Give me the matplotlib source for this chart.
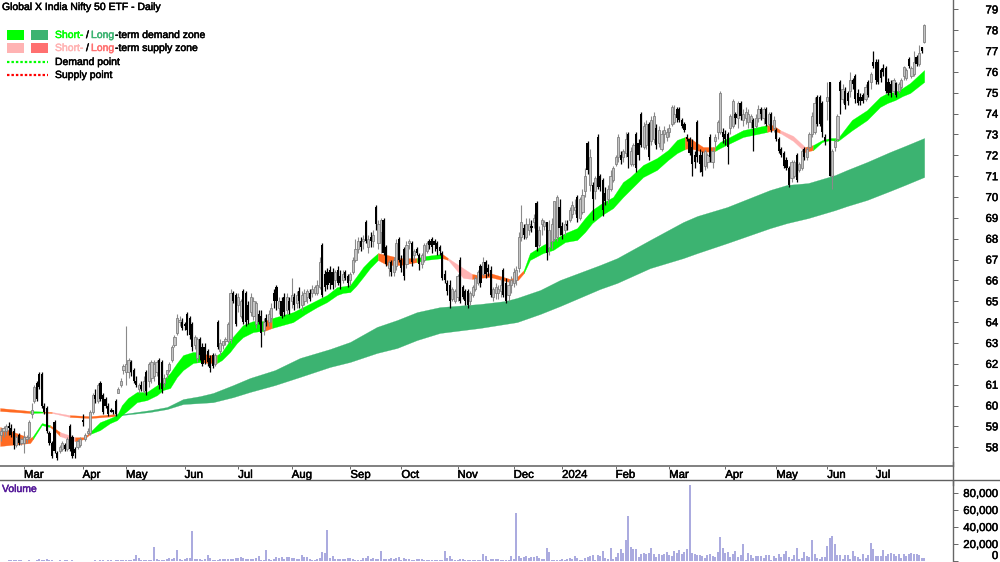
#!/usr/bin/env python3
import matplotlib
matplotlib.use('Agg')
import matplotlib.pyplot as plt
from matplotlib.patches import Rectangle
from matplotlib.patheffects import withStroke
from matplotlib.text import Text
import numpy as np

plt.rcParams['font.family'] = ['Liberation Sans', 'DejaVu Sans']

# daily prices, one value per trading day
opens = [
 58.6,58.8,58.8,59.0,58.9,58.8,58.1,58.6,58.2,58.2, 58.4,58.5,59.6,60.2,61.1,61.5,61.5,60.0,59.9,58.7,
 58.2,59.2,57.7,57.8,57.9,58.1,57.9,59.0,58.5,57.9, 58.0,58.1,59.3,58.4,58.7,58.7,59.7,60.5,60.2,61.1,
 60.5,60.3,60.0,59.8,59.8,60.2,60.6,61.0,61.7,61.6, 61.6,62.1,61.7,61.2,60.8,61.0,60.7,61.6,61.2,61.3,
 61.4,61.6,62.2,62.1,61.1,61.5,61.7,62.2,62.9,63.5, 64.0,64.0,63.9,64.4,64.2,63.9,62.9,62.3,63.2,62.8,
 62.8,62.6,62.3,62.4,62.0,64.0,62.6,62.9,63.1,63.1, 63.2,65.4,65.3,64.8,64.3,65.5,65.4,64.8,64.5,64.3,
 63.9,64.4,64.3,63.6,64.2,64.0,64.2,65.4,65.7,64.7, 65.0,65.2,64.6,65.0,65.0,65.2,64.9,65.5,64.8,65.0,
 65.2,65.4,65.4,65.4,65.4,65.7,67.7,66.3,66.4,66.5, 66.4,66.0,66.5,66.2,66.0,66.4,66.2,66.0,66.4,67.0,
 67.5,67.9,67.9,68.8,67.6,68.1,67.9,69.5,67.8,68.3, 68.9,67.6,66.6,66.9,66.4,66.7,68.0,67.0,67.5,66.8,
 67.8,67.8,67.2,67.5,67.2,66.8,67.0,67.4,67.9,68.0, 67.9,67.8,67.6,67.3,66.3,65.9,65.8,65.1,65.0,65.2,
 67.0,65.7,65.5,65.5,65.0,65.3,65.6,65.9,66.7,66.3, 66.9,66.6,66.5,65.2,65.4,65.4,65.5,66.5,65.9,65.3,
 65.8,65.9,66.0,66.6,68.1,68.5,68.1,68.4,68.6,68.8, 69.7,67.7,68.7,68.6,68.8,67.6,67.9,68.0,68.1,69.5,
 68.6,68.4,68.7,68.9,69.2,69.4,70.0,69.0,69.3,70.3, 72.6,70.6,70.6,70.3,72.9,71.0,70.8,70.2,69.9,70.4,
 70.8,71.6,71.9,72.0,71.9,72.1,73.0,71.6,71.6,73.0, 72.6,74.0,72.4,72.5,73.5,72.7,72.8,73.3,72.6,72.3,
 73.0,72.9,73.1,73.5,73.6,74.2,74.2,73.7,73.5,72.9, 72.8,72.4,72.0,73.6,72.0,72.0,71.5,71.7,72.9,71.7,
 72.7,73.1,73.1,73.1,73.0,73.0,73.3,73.4,74.0,73.8, 74.5,73.7,73.8,73.6,73.6,73.7,73.4,73.8,74.2,73.8,
 74.2,73.5,74.0,73.3,73.2,72.8,72.3,72.1,71.8,71.4, 70.9,71.0,72.0,71.3,71.4,72.3,71.9,72.4,73.0,73.1,
 74.8,74.8,74.5,72.9,74.6,75.5,71.0,72.4,72.8,75.5, 74.7,75.1,75.0,75.1,75.6,75.8,75.0,74.8,74.9,74.7,
 75.5,75.5,76.5,76.5,76.5,76.1,76.2,76.2,75.5,75.4, 75.1,75.45,75.1,75.3,75.8,75.7,76.6,75.8,75.9,76.7,76.4,77.2,77.45]
highs = [
 58.9,59.0,59.1,59.2,59.1,58.9,58.6,58.7,58.5,58.8, 58.6,59.3,60.1,61.0,61.2,61.6,61.6,60.1,60.0,58.8,
 58.3,59.3,57.8,58.1,58.3,58.2,58.5,59.1,58.6,58.0, 58.4,58.5,59.6,58.7,58.9,59.8,60.6,60.8,61.1,61.2,
 60.6,60.4,60.1,59.9,59.8,60.3,60.9,61.3,62.0,63.8, 62.3,62.2,61.8,61.4,61.1,61.2,61.4,61.7,62.1,62.2,
 62.2,62.2,62.3,62.2,61.5,61.7,62.1,62.9,63.4,64.4, 64.3,64.2,64.0,64.5,64.3,64.0,63.4,63.3,63.3,63.0,
 63.0,62.7,62.4,62.5,62.5,64.1,63.2,63.0,63.3,64.0, 65.6,65.5,65.4,65.4,65.1,65.6,65.5,65.0,65.4,65.2,
 65.0,64.6,64.6,64.2,64.4,64.6,64.9,65.6,65.8,65.2, 65.2,65.4,65.4,65.2,66.1,65.4,65.5,65.7,65.5,65.6,
 65.6,65.6,65.8,65.8,66.0,67.1,67.8,66.5,66.6,66.7, 66.6,66.5,66.7,66.5,66.5,66.5,66.3,66.4,67.1,68.0,
 68.1,68.1,68.2,68.9,68.2,68.3,68.4,69.6,68.9,69.0, 69.0,67.7,67.0,67.0,67.1,68.0,68.1,67.2,67.6,67.9,
 68.0,67.9,67.5,67.6,67.3,67.3,67.8,67.9,68.0,68.1, 68.0,67.9,67.7,67.4,66.5,66.0,66.0,65.7,65.6,66.3,
 67.1,65.8,65.6,65.6,65.5,65.8,66.2,66.5,66.8,67.1, 67.0,66.8,66.7,65.7,65.9,65.8,66.1,66.6,66.1,66.0,
 66.2,66.6,66.7,68.3,69.6,68.7,69.0,69.0,68.9,69.2, 69.8,68.6,69.0,68.9,68.8,68.9,69.0,68.9,70.1,69.9,
 68.8,68.9,68.9,69.5,69.8,69.9,70.1,70.0,70.4,71.4, 72.7,72.3,70.7,71.0,73.0,71.1,70.9,70.5,70.6,71.3,
 71.5,72.0,73.0,72.2,72.3,73.1,73.1,72.4,72.6,73.1, 72.8,74.1,73.6,73.7,73.6,73.9,74.1,73.5,73.4,73.2,
 73.4,73.3,73.5,74.4,74.4,74.3,74.3,73.8,73.6,73.0, 72.9,72.8,72.2,73.7,72.3,72.2,72.3,72.1,73.0,72.4,
 73.0,73.7,75.1,73.3,73.2,73.1,74.0,74.7,74.1,74.6, 74.6,74.2,74.3,74.2,74.0,73.8,74.0,74.4,74.3,74.3,
 74.3,74.1,74.1,73.9,73.3,72.9,72.4,72.2,71.9,71.5, 71.8,71.8,72.1,71.7,72.3,72.4,72.4,73.1,74.1,74.8,
 74.9,74.9,74.6,73.0,75.5,75.5,72.3,72.8,74.0,75.6, 75.4,75.3,75.1,76.0,75.7,75.9,75.2,75.0,75.0,75.4,
 75.6,76.0,77.0,76.6,76.6,76.2,76.4,76.3,75.7,75.6, 75.7,75.5,75.5,75.7,76.3,76.2,76.7,76.3,77.0,76.8,77.3,77.2,78.3]
lows = [
 58.3,58.5,58.6,58.6,58.5,57.9,58.0,58.1,58.1,57.7, 58.2,58.4,59.4,60.1,60.2,60.8,59.9,59.6,58.7,58.1,
 57.5,57.7,57.4,57.7,57.8,57.8,57.8,57.8,57.5,57.5, 57.9,58.0,59.0,58.3,58.6,58.6,59.6,60.1,60.1,60.2,
 59.6,59.9,59.5,59.7,59.6,59.5,60.6,60.9,61.5,61.0, 61.3,61.4,61.1,60.9,60.6,60.7,60.6,60.5,60.9,61.1,
 61.2,61.4,60.8,60.6,60.9,61.3,61.6,62.1,62.8,63.4, 63.8,63.6,63.6,63.4,63.2,62.6,62.7,62.1,62.2,61.9,
 62.0,61.9,61.6,61.8,61.9,62.7,62.4,62.7,62.9,63.0, 63.0,64.9,63.8,64.5,64.2,63.9,63.8,63.9,64.3,64.1,
 63.7,63.9,62.8,63.4,63.8,63.8,64.0,64.7,64.6,64.4, 64.2,64.3,64.4,64.4,64.7,64.6,64.7,64.7,64.6,64.8,
 64.9,65.0,65.2,65.3,65.3,65.6,65.2,65.5,65.6,65.6, 65.6,65.7,65.8,65.6,65.9,66.0,65.7,65.8,66.3,66.9,
 67.3,67.4,67.5,67.8,67.3,67.6,67.6,68.4,67.5,67.3, 67.2,66.7,66.2,66.2,66.2,66.5,66.9,66.4,66.0,66.6,
 67.5,66.7,67.0,67.2,66.5,66.6,66.9,67.3,67.5,67.3, 67.4,67.2,67.2,66.0,65.9,65.3,64.7,65.0,64.9,65.0,
 64.9,65.1,64.8,64.7,64.8,65.2,65.5,65.8,65.7,66.2, 66.1,66.2,65.2,65.0,65.1,65.1,65.2,65.2,64.9,65.0,
 65.4,65.7,65.8,66.4,67.9,68.0,68.0,68.2,68.3,68.5, 67.4,67.6,68.2,68.4,67.0,67.2,67.5,67.9,67.9,68.2,
 68.0,68.2,68.4,68.8,69.0,69.2,68.8,68.9,69.2,70.0, 71.1,70.3,68.9,69.9,70.4,70.3,69.1,69.6,69.7,70.3,
 70.7,71.5,71.7,71.6,71.7,71.9,71.4,71.5,71.5,71.2, 71.8,72.4,72.3,72.3,71.8,72.5,72.6,72.3,72.4,72.2,
 72.6,72.7,72.9,73.4,73.5,73.6,73.6,73.3,73.1,72.7, 72.0,71.0,71.4,71.7,71.2,71.0,71.3,71.4,71.7,71.4,
 72.4,72.8,73.0,72.6,72.5,71.6,73.0,73.3,73.5,73.3, 73.7,73.4,73.5,73.3,73.3,72.2,73.3,73.6,73.7,73.5,
 73.4,73.4,73.1,73.1,72.7,72.1,71.9,71.4,71.3,70.5, 70.7,70.9,70.7,71.2,71.3,71.8,71.8,72.3,72.9,73.0,
 73.4,73.4,72.9,72.5,73.7,71.0,70.4,72.2,72.7,74.0, 74.5,74.2,74.4,74.8,75.2,74.5,74.4,74.4,74.5,74.6,
 74.8,75.2,76.2,75.4,75.4,75.5,75.8,75.0,74.9,74.8, 74.9,74.8,75.0,75.2,75.6,75.6,76.2,75.7,75.8,76.3,76.3,76.9,77.4]
closes = [
 58.8,58.9,59.0,58.9,58.6,58.1,58.5,58.2,58.4,58.5, 58.5,59.2,59.8,60.9,60.3,60.9,60.0,59.7,58.8,58.2,
 57.6,57.8,57.5,58.0,58.2,57.9,58.4,57.9,57.6,57.7, 58.3,58.4,59.2,58.6,58.8,59.7,60.5,60.3,61.0,60.3,
 59.7,60.0,59.6,59.7,59.7,59.6,60.8,61.2,61.9,62.0, 62.2,61.6,61.2,61.0,61.0,60.8,61.2,60.7,62.0,62.1,
 62.0,62.1,61.0,60.8,61.3,61.7,62.0,62.8,63.3,64.2, 64.1,63.7,63.8,63.6,63.4,62.8,63.3,63.2,62.4,62.0,
 62.2,62.1,61.8,61.9,62.4,62.8,63.0,63.1,63.2,63.9, 65.4,65.0,63.9,65.2,65.0,64.0,64.0,64.1,65.2,65.0,
 64.9,64.0,63.5,64.0,64.0,64.4,64.7,65.0,65.0,65.0, 64.3,64.5,65.2,64.6,65.3,64.8,65.3,65.0,65.3,65.4,
 65.5,65.1,65.6,65.7,65.8,66.9,65.3,65.7,65.8,65.9, 65.8,66.4,65.9,65.9,66.3,66.1,65.9,66.3,67.0,67.5,
 67.9,67.6,68.0,67.9,68.0,67.9,68.2,68.7,68.7,68.9, 67.3,66.8,66.9,66.4,67.0,67.8,67.0,66.6,66.2,67.7,
 67.9,66.9,67.4,67.3,66.8,67.2,67.7,67.8,67.7,67.6, 67.7,67.5,67.4,66.1,66.0,65.5,65.0,65.6,65.5,66.2,
 65.0,65.2,65.0,64.8,65.4,65.7,66.1,66.4,65.9,66.9, 66.3,66.4,65.3,65.6,65.7,65.6,65.8,65.3,65.0,65.8,
 66.0,66.4,66.5,68.1,68.8,68.2,68.7,68.7,68.5,69.0, 67.6,68.4,68.9,68.8,67.3,68.4,68.7,69.8,70.0,68.5,
 68.2,68.7,68.6,69.4,69.6,69.5,69.0,69.9,70.1,71.0, 71.3,71.9,69.9,70.9,70.5,70.5,69.4,69.8,70.4,71.0,
 71.4,71.9,72.9,71.8,72.2,72.8,71.9,72.2,72.5,71.4, 72.0,72.5,73.4,73.5,71.9,73.7,73.9,72.5,73.2,73.0,
 73.2,73.1,73.3,74.3,74.0,73.8,73.7,73.4,73.2,72.8, 72.1,71.6,71.7,71.9,71.6,71.2,72.2,72.0,71.9,72.2,
 72.9,73.6,75.0,72.9,72.8,72.4,73.9,74.6,73.8,74.5, 73.9,74.0,74.1,74.0,73.9,73.3,73.8,74.2,74.0,74.2,
 73.5,74.0,73.2,73.7,72.8,72.2,72.0,71.5,71.4,70.6, 71.7,71.7,70.8,71.6,72.2,71.9,72.3,73.0,73.9,74.5,
 73.5,73.5,73.1,72.7,74.8,71.0,72.2,72.7,73.9,75.1, 75.2,74.4,74.6,75.6,75.4,74.7,74.5,74.6,74.6,75.3,
 74.9,75.9,76.3,75.6,75.5,75.7,76.0,75.1,75.0,75.0, 75.6,74.9,75.4,75.6,76.25,76.1,76.3,76.2,76.5,76.4,76.9,77.0,78.25]

# volume in thousands
volume_k = [
 0,0,0.3,0.6,1,0.8,0.8,0.6,0.8,0.4, 0.2,0.8,0.2,0.3,1.5,2,0.6,1.5,2,1.5,
 0.8,0.4,0.4,0.8,0.3,1.2,1.2,0.3,1.2,0.3, 0,0,0,0,0,0,0.5,0.8,0.5,0.8,
 0.8,0.5,1.6,0.8,0.3,1.2,0.6,0.6,1.2,1.5, 1.6,0.8,2,7,3,1.5,1.5,1.2,1.2,1.2,
 17,2.7,1.2,0.8,1.6,2.7,3.5,2.7,3.5,13, 2.7,1.6,2,3.1,3.1,35,2.4,2,2.7,1.6,
 2.7,7,3.1,1.6,1.6,1.6,2,2,2.7,2.7, 2,2.7,3.5,3.5,5,3,2.4,2,2,2.7,
 4,5.5,1.6,1.2,13,2,1.2,2.4,4.3,3.5, 4.7,2.7,4.7,4.3,3.5,3.1,2.4,2,7,4.3,
 4.7,2.4,1.6,1.2,2.4,3,10,9.5,36,3, 5.5,2.4,2,2.4,2.4,2,3.5,3.5,2.7,1.6,
 1.2,1.2,3.9,3.1,5.9,2.4,3.1,2,2.4,11.8, 2,2.7,2.7,3.9,2.4,3.1,4.3,0.8,3.1,2.4,
 2.4,1.6,1.6,2,2.7,2,1.2,1.2,1.2,1.2, 1.2,0.8,1.6,1.6,11.8,3.1,6.3,2.4,1.6,1.2,
 2,2.4,1.6,0.8,0.8,0.8,0.8,1.6,1.6,8.6, 5.9,1.6,2.7,2.7,2,2.4,1.6,1.2,1.2,0.8,
 5.5,2,56,5.5,3.1,4.7,6.3,3.1,4.7,5.1, 5.5,3.1,2.7,2.7,14.9,10.2,1.6,0.8,1.2,1.2,
 2.4,0.8,2.7,3.5,2,5.5,3.9,1.6,1.2,3.9, 4.7,6.3,7.4,1.2,7.4,6.3,12.2,3.9,2.7,14.9,
 2,4.7,9.4,14.1,9.4,24.7,52.9,16.5,13.7,13.7, 4.7,8.6,9.8,7.8,9.8,14.9,7.8,4.7,7.8,6.7,
 8.6,11,6.7,5.5,11.8,9.8,13.3,8.6,11,14.5, 89,9.8,7.8,7,7,6.3,3.9,6.7,7.8,5.5,
 4.7,11,28.2,15.7,9.8,11,4.7,7.8,11.8,4.7, 7,19.6,1.6,9.8,7,3.1,6.3,5.5,5.5,3.9,
 6.7,7,1.2,5.5,3.9,7.8,4.3,8.6,11.8,4.7, 2.4,6.7,14.9,2.4,3.1,11,5.5,5.1,25.1,7.8,
 3.9,2.4,4.7,4.7,17.2,26.7,29,19.6,7,7, 2.4,7,7,2.4,11.8,6.3,5.1,2,7.8,3.9,
 7,21.2,14.1,6.3,6.3,6.3,13.3,6.3,8.6,9.4, 7.8,6.3,7.8,3.9,8.6,5.5,8.6,9.4,8.6,7.8,7,3.9,3.1]

# short-term zone
short_day = [-0.4,11.4,12.5,16,19.2,20.8,23.1,29,32.5,34.9,38.8,42.7,45.5,47.4,49.8,53.3,57.2,61.2,63.5,66.3,
             69,71.4,75.3,78.4,81.2,84.7,86.6,89.8,92.5,94.9,98.8,101.6,103.1,106.3,114.5,119.2,123.9,127.8,131.8,134.1,
             136.9,139.2,142,144.7,147.8,151.4,156.5,163.1,166.3,173,175.3,181.2,184.7,187,191.8,199.6,202.7,205,207.4,212.5,
             216.5,221.2,225.9,229,231.8,235.7,240,243.9,246.7,251.8,257.2,261.6,265.1,268.2,270,275.3,280,282,291,300.4,
             302.7,305.5,310.6,315.3,318.4,322,325.1,328.2,333.7,339.6,344.7,347.6,350.6,353.5,356.5,362]
short_top = [58.97,58.44,58.53,59.16,59.06,58.92,58.73,58.48,58.48,58.73,59.20,59.39,59.54,60.02,60.36,60.65,60.65,60.98,61.22,61.56,
             62.04,62.42,62.57,62.55,62.42,62.42,62.57,63.14,63.52,63.86,64.05,64.05,64.05,64.19,64.48,64.77,65.06,65.3,65.68,65.72,
             65.78,66.16,66.64,66.98,67.31,67.22,67.07,67.07,67.17,67.27,67.07,66.59,66.31,66.26,66.35,66.07,66.21,66.50,67.31,67.70,
             67.94,68.27,68.51,68.99,69.38,69.71,70.0,70.72,70.96,71.54,71.87,72.26,72.74,72.88,72.83,72.40,72.40,72.64,73.21,73.45,
             73.45,73.21,72.93,72.40,72.49,72.73,72.83,72.83,73.7,74.17,74.8,74.99,75.04,75.23,75.47,76.09]
short_bot = [58.06,58.20,58.39,59.06,58.97,58.82,58.53,58.29,58.39,58.63,58.82,59.15,59.30,59.54,59.78,60.16,60.26,60.50,60.74,60.84,
             61.37,61.70,62.04,62.09,62.04,62.04,62.18,62.57,63.0,63.28,63.52,63.57,63.57,63.72,64.0,64.38,64.72,64.96,65.30,65.40,
             65.44,65.73,66.16,66.59,66.98,66.74,66.74,66.88,66.98,67.07,66.98,66.12,66.07,66.12,66.16,65.92,66.02,66.35,66.98,67.31,
             67.46,67.84,67.94,68.32,68.75,69.14,69.47,70.0,70.34,70.96,71.30,71.78,72.11,72.30,72.35,72.16,72.21,72.35,72.88,73.12,
             73.21,73.07,72.69,72.16,72.25,72.64,72.73,72.69,73.2,73.69,74.32,74.51,74.65,74.84,74.99,75.52]
# (first day, last day, kind) for each stretch of the short-term zone
short_stretch = [(-0.4,12.5,'both'),(12.5,19.2,'demand'),(19.2,23.1,'both'),(23.1,29,'supply'),(29,34.9,'both'),
                 (34.9,78.4,'demand'),(78.4,84.7,'both'),(84.7,103.1,'demand'),(103.1,106.3,'both'),(106.3,147.8,'demand'),
                 (147.8,163.1,'both'),(163.1,173,'demand'),(173,175.3,'both'),(175.3,184.7,'supply'),(184.7,205,'both'),
                 (205,268.2,'demand'),(268.2,280,'both'),(280,300.4,'demand'),(300.4,305.5,'both'),(305.5,315.3,'supply'),
                 (315.3,318.4,'both'),(318.4,362,'demand')]

# long-term zone
long_day = [-0.4,11.4,16.5,20,27,35,44.7,48.6,58.4,65.1,71.4,78,83.1,91,97.6,107.4,117.2,129,136.9,147.4,155.3,163.1,172.1,
            187.8,197.6,202.3,211.4,219.2,234.9,241.6,254.5,267.5,273,284.7,301.6,308.2,316.5,327,331.8,339.6,348.6,354.5,362]
long_top = [59.88,59.74,59.71,59.69,59.54,59.49,59.59,59.61,59.78,59.93,60.31,60.45,60.60,60.98,61.32,61.70,62.28,62.71,63.05,63.77,64.10,64.48,64.72,
            64.87,65.01,65.16,65.54,66.02,66.74,67.07,67.94,68.80,69.09,69.52,70.34,70.58,70.67,71.05,71.30,71.68,72.16,72.45,72.83]
long_bot = [59.74,59.64,59.66,59.64,59.45,59.40,59.49,59.56,59.69,59.83,60.07,60.12,60.16,60.40,60.65,60.98,61.37,61.85,62.09,62.52,62.76,63.14,63.48,
            63.72,63.91,64.0,64.39,64.77,65.59,65.88,66.59,67.07,67.31,67.79,68.51,68.75,68.99,69.37,69.57,69.86,70.29,70.58,70.96]
long_stretch = [(-0.4,11.4,'both'),(11.4,16.5,'demand'),(16.5,20,'both'),(20,27,'supply'),(27,44.7,'both'),(44.7,362,'longdemand')]

price_ticks = list(range(58, 80))
vol_ticks = [0, 20000, 40000, 60000, 80000]
month_days = [9,32,49,72,93,114,137,157,179,201,220,241,262,284,304,324,343]
month_names = ['Mar','Apr','May','Jun','Jul','Aug','Sep','Oct','Nov','Dec','2024','Feb','Mar','Apr','May','Jun','Jul']

zone_colors = {'demand': '#00FF00', 'supply': '#FFB3B3', 'both': '#FF6A22', 'longdemand': '#3CB371'}

fig = plt.figure(figsize=(10, 5.62), dpi=100)
ax = fig.add_axes([0, 96/562, 0.953, 466/562])
vax = fig.add_axes([0, 1/562, 0.953, 80/562])

days = np.arange(len(closes))
op, hi, lo, cl = map(np.array, (opens, highs, lows, closes))
up = cl >= op


def draw_zone(xs, top, bot, stretches):
    xs, top, bot = map(np.array, (xs, top, bot))
    for a, b, kind in stretches:
        m = (xs >= a) & (xs <= b)
        c = zone_colors[kind]
        ax.fill_between(xs[m], bot[m], top[m], color=c, lw=0.2, zorder=1)


draw_zone(long_day, long_top, long_bot, long_stretch)
draw_zone(short_day, short_top, short_bot, short_stretch)

# candles, up days grey and down days solid black
ax.vlines(days[up], lo[up], hi[up], color='#8a8a8a', lw=0.8, zorder=3)
ax.bar(days[up], (cl - op)[up], bottom=op[up], width=0.85, facecolor='#c4c4c4', edgecolor='#808080', lw=0.6, zorder=4)
ax.vlines(days[~up], lo[~up], hi[~up], color='black', lw=0.9, zorder=3)
ax.bar(days[~up], (op - cl)[~up], bottom=cl[~up], width=0.85, color='black', lw=0, zorder=4)

ax.set_xlim(-0.4, 373.3)
ax.set_ylim(57.10, 79.45)
ax.yaxis.tick_right()
ax.set_yticks(price_ticks)
ax.set_yticklabels([str(t) for t in price_ticks], ha='right')
ax.tick_params(axis='y', length=3.6, width=0.7, color='#666666', pad=29, labelsize=8.2)
ax.set_xticks(month_days)
ax.set_xticklabels(month_names, ha='left')
ax.tick_params(axis='x', length=2.2, width=0.7, color='#666666', pad=0.6, labelsize=8.2)
for s in ('top', 'left'):
    ax.spines[s].set_visible(False)
ax.spines['bottom'].set_color('#808080')
ax.spines['bottom'].set_linewidth(1.4)
ax.spines['right'].set_color('#666666')
ax.spines['right'].set_linewidth(1.0)

vax.vlines(np.arange(len(volume_k)), 0, np.array(volume_k) * 1000, color='#9292D6', lw=1.1)
vax.set_xlim(-0.4, 373.3)
vax.set_ylim(0, 94100)
vax.yaxis.tick_right()
vax.set_yticks(vol_ticks)
vax.set_yticklabels([f'{t:,}' for t in vol_ticks], ha='right')
vax.tick_params(axis='y', length=3.6, width=0.7, color='#666666', pad=29, labelsize=8.2)
vax.get_yticklabels()[0].set_va('bottom')
vax.set_xticks([])
for s in ('top', 'left', 'bottom'):
    vax.spines[s].set_visible(False)
vax.spines['right'].set_color('#666666')
vax.spines['right'].set_linewidth(1.0)

# overlay in pixel coordinates for the header, the legend and the pane divider
lay = fig.add_axes([0, 0, 1, 1], zorder=10)
lay.set_xlim(0, 1000)
lay.set_ylim(562, 0)
lay.axis('off')
lay.plot([0, 1000], [480, 480], color='#606060', lw=1.0)
lay.plot([953, 953], [462, 485], color='#666666', lw=1.0)


def label(x, y, s, color='black', fs=7.5):
    lay.text(x, y, s, color=color, fontsize=fs, va='center', ha='left')


label(2, 7, 'Global X India Nifty 50 ETF - Daily')
label(2, 489, 'Volume', color='#551A99')
lay.add_patch(Rectangle((7, 30), 17, 10, color='#00FF00', lw=0))
lay.add_patch(Rectangle((31, 30), 17, 10, color='#3CB371', lw=0))
lay.add_patch(Rectangle((7, 43), 17, 10, color='#FFB3B3', lw=0))
lay.add_patch(Rectangle((31, 43), 17, 10, color='#FF7070', lw=0))
lay.plot([7, 48], [62, 62], color='#00FF00', lw=1.6, ls=(0, (1.1, 0.9)))
lay.plot([7, 48], [74.5, 74.5], color='#FF0000', lw=1.6, ls=(0, (1.1, 0.9)))
label(55, 35, 'Short-', '#00FF00')
label(86, 35, '/')
label(91, 35, 'Long', '#3CB371')
label(115, 35, '-term demand zone')
label(55, 48, 'Short-', '#FFB3B3')
label(86, 48, '/')
label(91, 48, 'Long', '#FF7070')
label(115, 48, '-term supply zone')
label(55, 62, 'Demand point')
label(55, 75, 'Supply point')

# the original text is a little heavier than regular weight
for t in fig.findobj(Text):
    t.set_path_effects([withStroke(linewidth=0.35, foreground=t.get_color())])

fig.savefig('out.png', dpi=100)
